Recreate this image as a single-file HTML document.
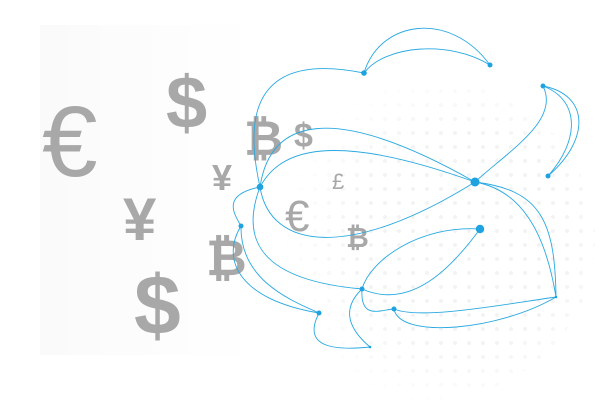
<!DOCTYPE html>
<html><head><style>
html,body{margin:0;padding:0;background:#fff;width:600px;height:400px;overflow:hidden}
svg{display:block}
text{font-family:"Liberation Sans","DejaVu Sans",sans-serif;font-weight:bold;fill:#a8a8a8}
</style></head><body>
<svg width="600" height="400" viewBox="0 0 600 400">
<defs>
<pattern id="dots" width="14" height="14" patternUnits="userSpaceOnUse"><circle cx="7" cy="7" r="2" fill="#f3f3f3"/></pattern>
<radialGradient id="fade" cx="0.6" cy="0.5" r="0.55"><stop offset="0.6" stop-color="#fff" stop-opacity="1"/><stop offset="1" stop-color="#fff" stop-opacity="0"/></radialGradient>
<mask id="m"><ellipse cx="430" cy="240" rx="165" ry="160" fill="url(#fade)"/></mask>
<linearGradient id="bg" x1="0" x2="1"><stop offset="0" stop-color="#fafafa"/><stop offset="1" stop-color="#fff"/></linearGradient>
</defs>
<rect x="40" y="25" width="220" height="330" fill="url(#bg)"/>
<ellipse cx="430" cy="240" rx="165" ry="160" fill="url(#dots)" mask="url(#m)"/>
<text x="42" y="176" font-size="100" style="font-weight:normal" fill="#b0b0b0">€</text>
<text x="166" y="128" font-size="74" fill="#b4b4b4">$</text>
<text x="244" y="155" font-size="48" fill="#b8b8b8">₿</text>
<text x="294" y="147" font-size="34" fill="#bbb">$</text>
<text x="212" y="190" font-size="36" fill="#bbb">¥</text>
<text x="123" y="240" font-size="60" fill="#b4b4b4">¥</text>
<text x="332" y="189" font-size="22" style="font-weight:normal" fill="#bbb">£</text>
<text x="285" y="231" font-size="44" style="font-weight:normal" fill="#b4b4b4">€</text>
<text x="346" y="247" font-size="28" fill="#b8b8b8">₿</text>
<text x="206" y="275" font-size="50" fill="#b0b0b0">₿</text>
<text x="134" y="334" font-size="84" fill="#b0b0b0">$</text>
<g fill="none" stroke="#29a9e1" stroke-width="0.9">
<path d="M260,187 C245,120 250,50 364,73"/>
<path d="M364,73 C380,20 450,10 490,65"/>
<path d="M364,73 C385,45 450,40 490,65"/>
<path d="M260,187 C270,120 330,100 475,182"/>
<path d="M260,187 C280,150 330,130 475,182"/>
<path d="M260,187 C270,250 350,260 475,182"/>
<path d="M475,182 C510,150 560,120 543,86"/>
<path d="M543,86 C590,95 590,140 548,176"/>
<path d="M543,86 C580,100 580,140 548,176"/>
<path d="M475,182 C540,190 555,220 556,297"/>
<path d="M475,182 C520,190 545,230 556,297"/>
<path d="M556,297 C500,330 400,340 394,309"/>
<path d="M556,297 C500,305 420,320 394,309"/>
<path d="M480,229 C420,225 370,260 362,289"/>
<path d="M480,229 C450,270 410,310 362,289"/>
<path d="M260,187 C240,240 260,280 362,289"/>
<path d="M362,289 C360,320 380,310 394,309"/>
<path d="M362,289 C340,310 350,330 370,347"/>
<path d="M260,187 C220,195 235,215 241,226"/>
<path d="M241,226 C220,260 240,300 319,313"/>
<path d="M241,226 C240,280 290,300 319,313"/>
<path d="M319,313 C300,350 340,350 370,347"/>
</g>
<g fill="#1fa3e0">
<circle cx="364" cy="73" r="2.8"/><circle cx="490" cy="65" r="2.5"/><circle cx="543" cy="86" r="2.5"/>
<circle cx="548" cy="176" r="2.5"/><circle cx="260" cy="187" r="3.3"/><circle cx="475" cy="182" r="4.5"/>
<circle cx="480" cy="229" r="4.2"/><circle cx="241" cy="226" r="2.5"/><circle cx="362" cy="289" r="2.5"/>
<circle cx="319" cy="313" r="2.5"/><circle cx="394" cy="309" r="2.5"/><circle cx="556" cy="297" r="1.3"/>
<circle cx="370" cy="347" r="1.3"/>
</g>
</svg>
</body></html>
